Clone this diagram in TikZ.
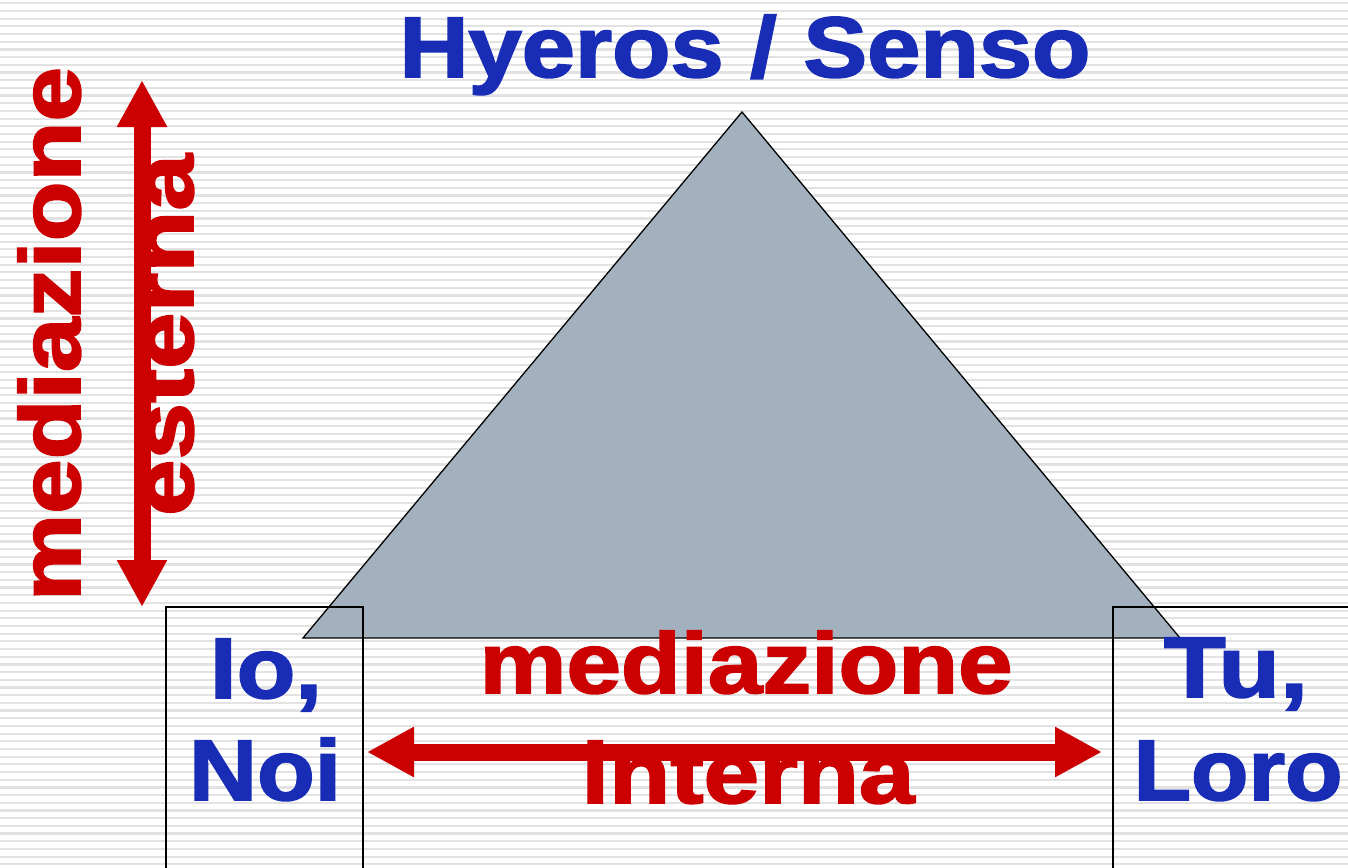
\documentclass[tikz,border=0pt]{standalone}
\usepackage{fontspec}
\setmainfont{Liberation Sans}
\newfontfamily\heavyfont[FakeBold=2]{Liberation Sans Bold}
\usetikzlibrary{arrows.meta}
\definecolor{tblue}{RGB}{24,44,182}
\definecolor{tred}{RGB}{204,0,0}
\definecolor{tgray}{RGB}{163,177,191}
\definecolor{stripe}{RGB}{226,226,226}
\newcommand\fitw[2]{\resizebox{#1}{\height}{#2}}
\tikzset{
  lbl/.style={inner sep=0pt, anchor=base, font=\fontsize{86}{86}\heavyfont},
  bluetxt/.style={lbl, text=tblue},
  redtxt/.style={lbl, text=tred},
  bigarrow/.style={draw=tred, line width=17pt, {Triangle[length=47pt,width=47pt]}-{Triangle[length=47pt,width=47pt]}, fill=tred},
  boxline/.style={draw=black, line width=1.8pt},
  tri/.style={fill=tgray, draw=black, line width=1.3pt, line join=miter}
}
\begin{document}
\begin{tikzpicture}[x=1pt, y=-1pt]
\useasboundingbox (0,0) rectangle (1348,867);
\fill[white] (0,0) rectangle (1348,867);
\foreach \i in {0,...,112}
  \draw[stripe, line width=2.2pt] (0,{3.3+\i*7.6875}) -- (1348,{3.3+\i*7.6875});
% triangle
\coordinate (apex) at (742,112);
\coordinate (bl) at (303,638);
\coordinate (br) at (1180,638);
\path[tri] (apex) -- (br) -- (bl) -- cycle;
% boxes
\draw[boxline] (166,872) -- (166,607) -- (363,607) -- (363,872);
\draw[boxline] (1113,872) -- (1113,607) -- (1352,607);
% arrows
\coordinate (vtop) at (142,80);
\coordinate (vbot) at (142,607);
\coordinate (hleft) at (367,752);
\coordinate (hright) at (1102,752);
\draw[bigarrow] (vtop) -- (vbot);
\draw[bigarrow] (hleft) -- (hright);
% texts
\node[bluetxt] (title) at (745,77) {\fitw{691pt}{Hyeros / Senso}};
\node[bluetxt] (io) at (266,698) {\fitw{112pt}{Io,}};
\node[bluetxt] (noi) at (265,800) {\fitw{152pt}{Noi}};
\node[bluetxt] (tu) at (1236,697) {\fitw{144pt}{Tu,}};
\node[bluetxt] (loro) at (1238,800) {\fitw{209pt}{Loro}};
\node[redtxt] (medi) at (746,693) {\fitw{533pt}{mediazione}};
\node[redtxt] (inte) at (748,803) {\fitw{333pt}{interna}};
\node[redtxt, rotate=90] (mede) at (80,334) {\fitw{534pt}{mediazione}};
\node[redtxt, rotate=90] (este) at (193,335) {\fitw{362pt}{esterna}};
\end{tikzpicture}
\end{document}
